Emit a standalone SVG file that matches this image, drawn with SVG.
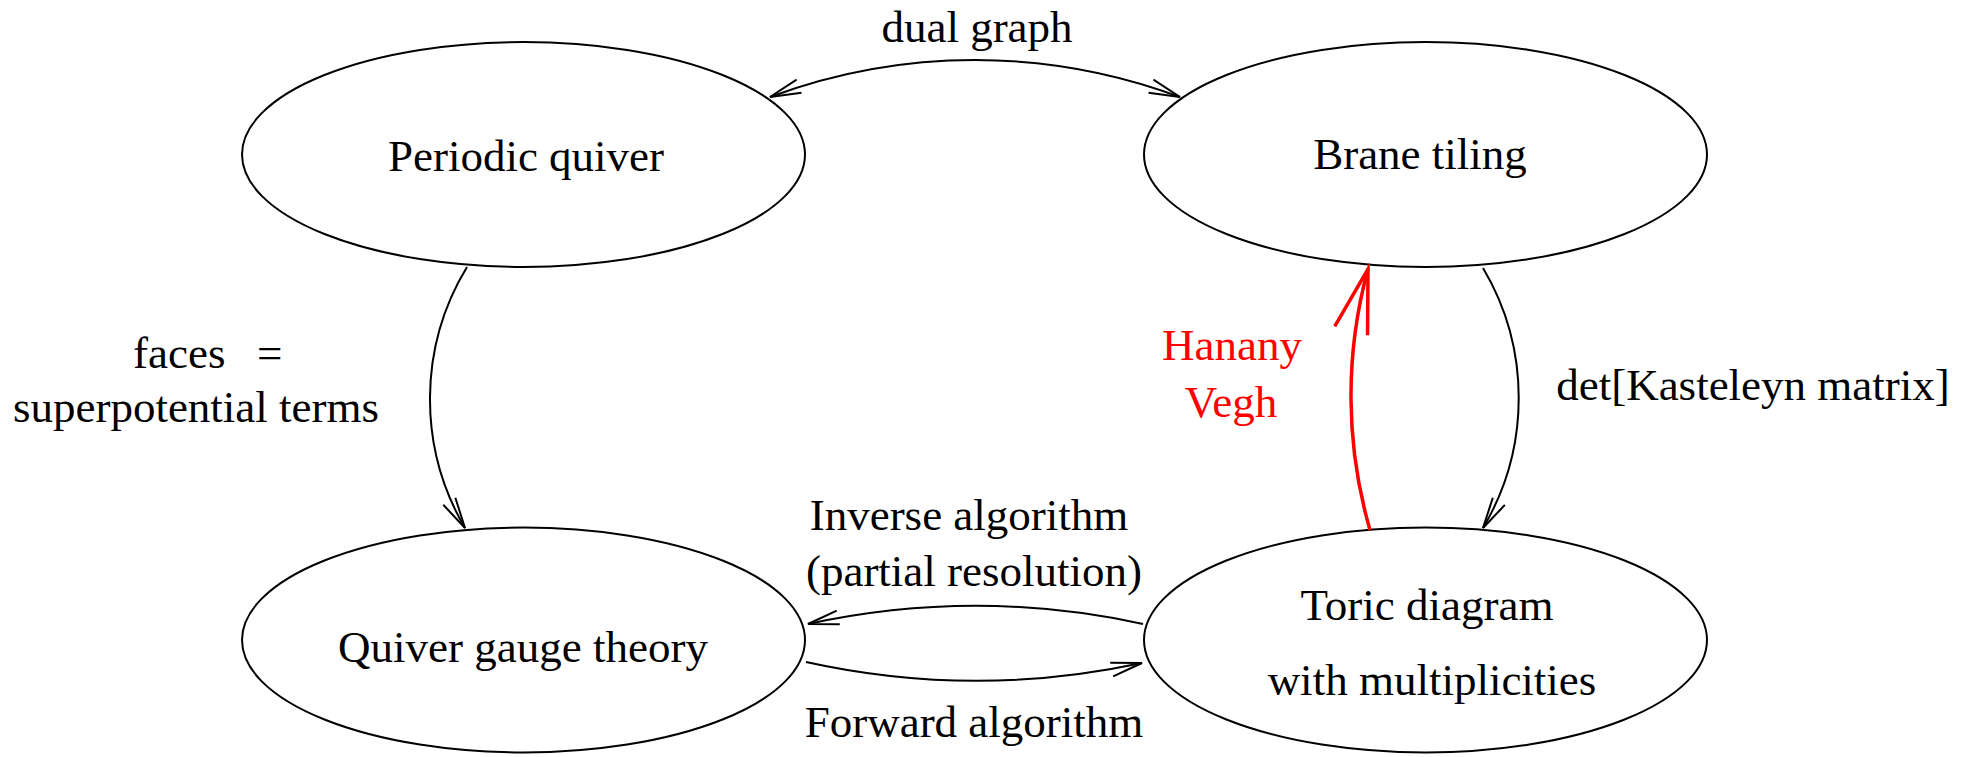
<svg xmlns="http://www.w3.org/2000/svg" width="1972" height="757" viewBox="0 0 1972 757">
  <style>
    .node { fill: none; stroke: #000; stroke-width: 2; }
    .lbl { font-family: "Liberation Serif", "Times New Roman", serif; font-size: 45px; fill: #000; text-anchor: middle; }
    .red { fill: #ff0000; }
    .edge { fill: none; stroke: #000; stroke-width: 2; }
    .edge-red { fill: none; stroke: #ff0000; stroke-width: 3.5; }
  </style>
  <defs>
    <marker id="open" markerUnits="userSpaceOnUse" orient="auto-start-reverse" overflow="visible" markerWidth="1" markerHeight="1" refX="0" refY="0">
      <path d="M-31,-7 L0,0 L-31,7" fill="none" stroke="#000" stroke-width="2"/>
    </marker>
    <marker id="open-red" markerUnits="userSpaceOnUse" orient="auto" overflow="visible" markerWidth="1" markerHeight="1" refX="0" refY="0">
      <path d="M-64,-17 L0,0 L-64,17" fill="none" stroke="#ff0000" stroke-width="3.5"/>
    </marker>
  </defs>
  <rect width="1972" height="757" fill="#fff"/>

  <g id="periodic-quiver">
    <ellipse class="node" cx="523.5" cy="154.5" rx="281.5" ry="112.5"/>
    <text class="lbl" x="526" y="171">Periodic quiver</text>
  </g>
  <g id="brane-tiling">
    <ellipse class="node" cx="1425.5" cy="154.5" rx="281.5" ry="112.5"/>
    <text class="lbl" x="1420" y="169">Brane tiling</text>
  </g>
  <g id="quiver-gauge-theory">
    <ellipse class="node" cx="523.5" cy="640" rx="281.5" ry="112.5"/>
    <text class="lbl" x="523" y="662">Quiver gauge theory</text>
  </g>
  <g id="toric-diagram">
    <ellipse class="node" cx="1425.5" cy="640" rx="281.5" ry="112.5"/>
    <text class="lbl" x="1427" y="620">Toric diagram</text>
    <text class="lbl" x="1432" y="695">with multiplicities</text>
  </g>

  <g id="connectors">
    <path class="edge" d="M770,97 A586,586 0 0 1 1180,97" marker-start="url(#open)" marker-end="url(#open)"/>
    <path class="edge" d="M467,267 A254.5,254.5 0 0 0 465,528" marker-end="url(#open)"/>
    <path class="edge" d="M1483,268 A254.5,254.5 0 0 1 1483,528" marker-end="url(#open)"/>
    <path class="edge-red" d="M1370,530 A482,482 0 0 1 1368,269" marker-end="url(#open-red)"/>
    <path class="edge" d="M1143,624 A788,788 0 0 0 808,624" marker-end="url(#open)"/>
    <path class="edge" d="M806,662 A788,788 0 0 0 1142,663" marker-end="url(#open)"/>

    <text class="lbl" x="977" y="42">dual graph</text>
    <text class="lbl" style="text-anchor:start" x="133" y="368">faces<tspan x="257">=</tspan></text>
    <text class="lbl" x="196" y="422">superpotential terms</text>
    <text class="lbl" x="1753" y="400">det[Kasteleyn matrix]</text>
    <text class="lbl red" x="1232" y="360">Hanany</text>
    <text class="lbl red" x="1231" y="417">Vegh</text>
    <text class="lbl" x="969" y="530">Inverse algorithm</text>
    <text class="lbl" x="974" y="586">(partial resolution)</text>
    <text class="lbl" x="974" y="737">Forward algorithm</text>
  </g>
</svg>
